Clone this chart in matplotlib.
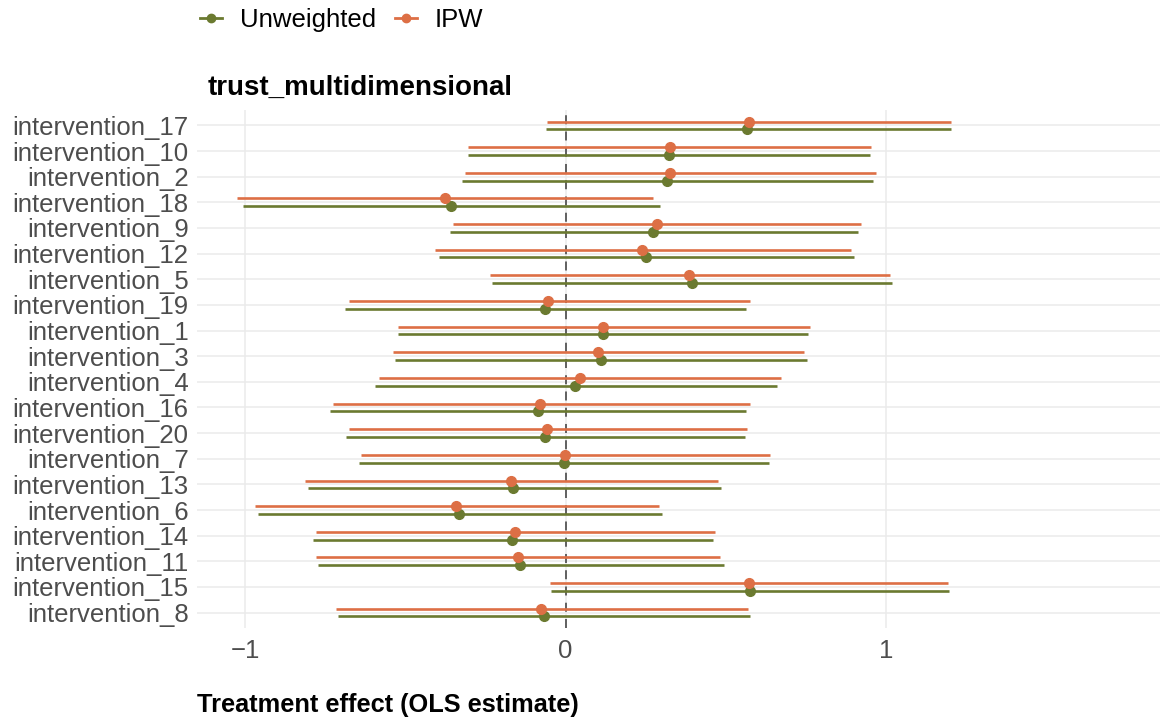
import numpy as np
import matplotlib.pyplot as plt
from matplotlib.lines import Line2D

plt.rcParams["font.family"] = ["Liberation Sans", "DejaVu Sans"]

# categories, top to bottom
labels = ["intervention_17", "intervention_10", "intervention_2", "intervention_18",
          "intervention_9", "intervention_12", "intervention_5", "intervention_19",
          "intervention_1", "intervention_3", "intervention_4", "intervention_16",
          "intervention_20", "intervention_7", "intervention_13", "intervention_6",
          "intervention_14", "intervention_11", "intervention_15", "intervention_8"]

# Unweighted estimates and 95% CI
unw_est = [0.567, 0.321, 0.317, -0.357, 0.274, 0.252, 0.394, -0.064, 0.116, 0.109,
           0.030, -0.086, -0.064, -0.006, -0.163, -0.332, -0.166, -0.142, 0.574, -0.068]
unw_lo = [-0.061, -0.306, -0.322, -1.006, -0.360, -0.394, -0.230, -0.687, -0.523, -0.532,
          -0.596, -0.734, -0.684, -0.643, -0.803, -0.960, -0.788, -0.772, -0.046, -0.709]
unw_hi = [1.201, 0.950, 0.960, 0.294, 0.912, 0.899, 1.019, 0.564, 0.757, 0.753,
          0.658, 0.564, 0.560, 0.634, 0.485, 0.300, 0.461, 0.493, 1.197, 0.576]

# IPW estimates and 95% CI
ipw_est = [0.571, 0.324, 0.327, -0.376, 0.284, 0.239, 0.386, -0.054, 0.118, 0.102,
           0.045, -0.080, -0.057, -0.003, -0.171, -0.341, -0.158, -0.150, 0.571, -0.077]
ipw_lo = [-0.059, -0.303, -0.313, -1.025, -0.351, -0.407, -0.237, -0.677, -0.523, -0.539,
          -0.582, -0.727, -0.677, -0.638, -0.812, -0.968, -0.778, -0.778, -0.049, -0.716]
ipw_hi = [1.203, 0.953, 0.969, 0.274, 0.922, 0.890, 1.011, 0.574, 0.761, 0.745,
          0.673, 0.574, 0.566, 0.638, 0.475, 0.292, 0.467, 0.483, 1.194, 0.568]

col_unw = "#6b7a30"
col_ipw = "#dd6f45"

n = len(labels)
y = np.arange(n)[::-1].astype(float)
dodge = 0.15

fig = plt.figure(figsize=(11.62, 7.19), dpi=100)
ax = fig.add_axes([0.1695, 0.1266, 0.8285, 0.7204])

ax.set_xlim(-1.15, 1.853)
ax.set_ylim(-0.6, n - 1 + 0.6)

for v in [-1, 0, 1]:
    ax.axvline(v, color="#ebebeb", lw=1.1, zorder=0)
for yy in y:
    ax.axhline(yy, color="#ebebeb", lw=1.1, zorder=0)
ax.axvline(0, color="#555555", lw=1.3, ls=(0, (5, 4)), zorder=1)

ax.hlines(y - dodge, unw_lo, unw_hi, color=col_unw, lw=1.9, zorder=2)
ax.plot(unw_est, y - dodge, "o", color=col_unw, ms=7, zorder=3)
ax.hlines(y + dodge, ipw_lo, ipw_hi, color=col_ipw, lw=1.9, zorder=2)
ax.plot(ipw_est, y + dodge, "o", color=col_ipw, ms=7, zorder=3)

ax.set_yticks(y)
ax.set_yticklabels(labels)
ax.set_xticks([-1, 0, 1])
ax.set_xticklabels(["\u22121", "0", "1"])
ax.tick_params(axis="both", length=0, labelsize=18.5, colors="#4d4d4d")
ax.tick_params(axis="y", pad=6)
ax.tick_params(axis="x", pad=8)
for s in ax.spines.values():
    s.set_visible(False)

fig.text(208 / 1162, 1 - 88 / 719, "trust_multidimensional", fontsize=20,
         fontweight="bold", va="center", ha="left")
fig.text(197 / 1162, 1 - 705 / 719, "Treatment effect (OLS estimate)", fontsize=18.3,
         fontweight="bold", va="center", ha="left")

handles = [Line2D([0], [0], color=col_unw, lw=2, marker="o", ms=6),
           Line2D([0], [0], color=col_ipw, lw=2, marker="o", ms=6)]
fig.legend(handles, ["Unweighted", "IPW"], loc="center left",
           bbox_to_anchor=(0.172, 1 - 20 / 719), ncol=2, frameon=False,
           fontsize=18.5, handlelength=0.85, handletextpad=0.7, columnspacing=0.75,
           borderaxespad=0, borderpad=0)

fig.savefig("out.png", dpi=100)
